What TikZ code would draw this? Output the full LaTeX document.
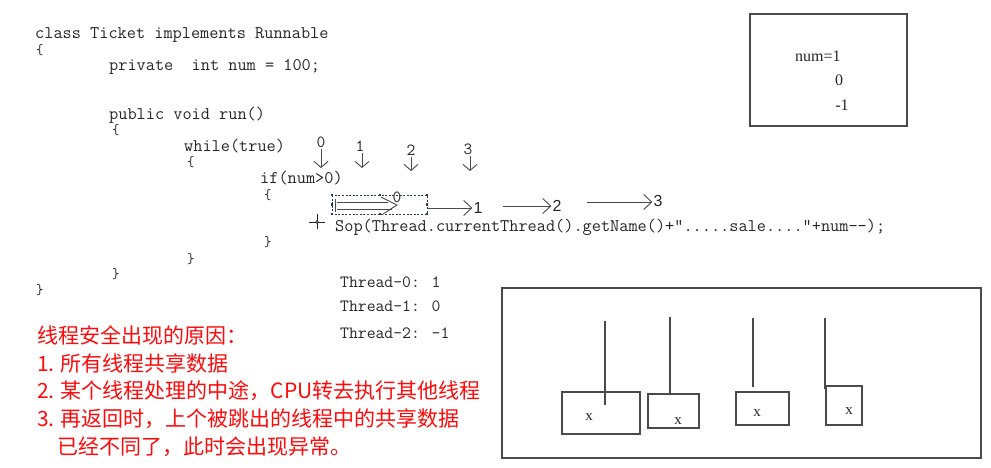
\documentclass[tikz,border=0pt]{standalone}
\usepackage{fontspec}
\usetikzlibrary{arrows.meta}
\newfontfamily\codefont{Latin Modern Mono}
\newfontfamily\seriffont{Liberation Serif}
\newfontfamily\sansfont{Liberation Sans}
\newfontfamily\cjk{Noto Sans CJK SC}
\definecolor{ink}{HTML}{262626}
\definecolor{lineg}{HTML}{4A4A4A}
\definecolor{selc}{HTML}{2E3A5C}
\definecolor{redtxt}{HTML}{FF0A0A}
\begin{document}
\begin{tikzpicture}[x=1pt,y=-1pt,
  code/.style={anchor=west,inner sep=0pt,text=ink,font=\codefont\fontsize{17.8}{20}\selectfont,text height=9pt,text depth=2pt},
  brace/.style={anchor=west,inner sep=0pt,text=ink,font=\codefont\fontsize{14.5}{16}\selectfont,text height=8pt,text depth=2pt},
  outp/.style={anchor=west,inner sep=0pt,text=ink,font=\codefont\fontsize{17.2}{20}\selectfont,text height=9pt,text depth=2pt},
  dnum/.style={inner sep=1pt,text=ink,font=\codefont\fontsize{17}{20}\selectfont},
  hnum/.style={inner sep=1pt,text=ink,font=\sansfont\fontsize{16}{18}\selectfont},
  varrow/.style={draw=lineg,line width=0.9pt,-{Straight Barb[length=6pt,width=14pt]}},
  harrow/.style={draw=lineg,line width=0.9pt,-{Straight Barb[length=8pt,width=15pt]}},
  plain/.style={draw=lineg,line width=0.9pt},
  frame/.style={draw=lineg,line width=1.3pt,inner sep=0pt},
  cell/.style={draw=lineg,line width=1.1pt,inner sep=0pt},
  numtxt/.style={inner sep=0pt,text=ink,font=\seriffont\fontsize{16}{18}\selectfont},
  xlab/.style={inner sep=0pt,text=ink,font=\seriffont\fontsize{15}{18}\selectfont},
  redline/.style={anchor=west,inner sep=0pt,text=redtxt,font=\cjk\fontsize{21}{24}\selectfont},
  handle/.style={fill=selc,inner sep=0pt,minimum size=2.4pt}
]
\useasboundingbox (0,0) rectangle (991,467);

% ---- code ----
\node[code] (c1) at (35,35) {class Ticket implements Runnable};
\node[brace] (c2) at (36,51) {\{};
\node[code] (c3) at (109,67) {private\ \ int num = 100;};
\node[code] (c4) at (109,116) {public void run()};
\node[brace] (c5) at (112,131) {\{};
\node[code] (c6) at (184,148) {while(true)};
\node[brace] (c7) at (187,163) {\{};
\node[code] (c8) at (260,180) {if(num>0)};
\node[brace] (c9) at (264,196) {\{};
\node[code] (c10) at (335,228) {Sop(Thread.currentThread().getName()+".....sale...."+num-{}-);};
\node[brace] (c11) at (264,243) {\}};
\node[brace] (c12) at (187,260) {\}};
\node[brace] (c13) at (112,275) {\}};
\node[brace] (c14) at (36,291) {\}};

% ---- down arrows ----
\node[dnum] (d0) at (321,142) {0};
\node[dnum] (d1) at (360,146) {1};
\node[dnum] (d2) at (411,150) {2};
\node[dnum] (d3) at (468,149) {3};
\coordinate (t0) at (321,168);
\coordinate (t1) at (362,168);
\coordinate (t2) at (411,171);
\coordinate (t3) at (470,171);
\draw[varrow] (d0.south) -- (t0);
\draw[varrow] ([xshift=2pt]d1.south) -- (t1);
\draw[varrow] (d2.south) -- (t2);
\draw[varrow] ([xshift=2pt]d3.south) -- (t3);

% ---- selection box with double arrow ----
\draw[selc,line width=0.8pt,dash pattern=on 2pt off 1.6pt] (332,195) rectangle (427,214);
\foreach \p in {(332,195),(380,195),(427,195),(332,204.5),(427,204.5),(332,214),(380,214),(427,214)}
  \node[handle] at \p {};
\coordinate (a0) at (337,202);
\coordinate (a1) at (388,202);
\coordinate (a2) at (337,209);
\coordinate (a3) at (392,209);
\coordinate (ha) at (381,197);
\coordinate (hb) at (397,205);
\coordinate (hc) at (383,214);
\draw[plain] (a0) -- (a1);
\draw[plain] (a2) -- (a3);
\draw[plain] (ha) -- (hb) -- (hc);
\draw[plain] (335,199) -- (335,212);
\node[dnum] (h0) at (397,197) {0};

% ---- horizontal arrows ----
\node[hnum] (h1) at (478,208) {1};
\node[hnum] (h2) at (557,206) {2};
\node[hnum] (h3) at (658,201) {3};
\coordinate (s1) at (428,208);
\coordinate (s2) at (503,206);
\coordinate (s3) at (587,202);
\draw[harrow] (s1) -- (s1 -| h1.west);
\draw[harrow] (s2) -- (s2 -| h2.west);
\draw[harrow] (s3) -- (s3 -| h3.west);

% ---- cursor cross ----
\coordinate (cx) at (317,222);
\draw[draw=ink,line width=0.8pt] ([xshift=-8pt]cx) -- ([xshift=8pt]cx);
\draw[draw=ink,line width=0.8pt] ([yshift=-7pt]cx) -- ([yshift=8pt]cx);
\draw[draw=ink,line width=0.6pt,fill=white] (cx) circle (1.4pt);

% ---- thread output ----
\node[outp] (o1) at (340,284) {Thread-0: 1};
\node[outp] (o2) at (340,308) {Thread-1: 0};
\node[outp] (o3) at (340,335) {Thread-2: -1};

% ---- num box ----
\node[frame,minimum width=157pt,minimum height=112pt] (nbox) at (828.5,70) {};
\node[numtxt,anchor=west] (n1) at (795,56) {num=1};
\node[numtxt] (n2) at (839,80) {0};
\node[numtxt] (n3) at (842,105) {-1};

% ---- red explanation ----
\node[redline] (r1) at (37,335) {线程安全出现的原因：};
\node[redline] (r2) at (37,363) {1. 所有线程共享数据};
\node[redline] (r3) at (37,391) {2. 某个线程处理的中途，CPU转去执行其他线程};
\node[redline] (r4) at (37,419) {3. 再返回时，上个被跳出的线程中的共享数据};
\node[redline] (r5) at (57,447) {已经不同了，此时会出现异常。};

% ---- bottom frame ----
\node[frame,minimum width=479pt,minimum height=170pt] (bbox) at (741.5,373) {};
\node[cell,minimum width=78pt,minimum height=42pt] (b1) at (601,413) {};
\node[cell,minimum width=51pt,minimum height=34pt] (b2) at (673.5,411) {};
\node[cell,minimum width=53pt,minimum height=33pt] (b3) at (762.5,408.5) {};
\node[cell,minimum width=36pt,minimum height=39pt] (b4) at (844,405.5) {};
\node[xlab] (x1) at (589,417) {x};
\node[xlab] (x2) at (678,421) {x};
\node[xlab] (x3) at (757,413) {x};
\node[xlab] (x4) at (849,411) {x};
\coordinate (p1) at (605,321);
\coordinate (q1) at (605,405);
\coordinate (p2) at (670,317);
\coordinate (p3) at (753,318);
\coordinate (q3) at (753,387);
\coordinate (p4) at (825,318);
\coordinate (q4) at (825,389);
\draw[plain,line width=1.1pt] (p1) -- (q1);
\draw[plain,line width=1.1pt] (p2) -- (p2 |- b2.north);
\draw[plain,line width=1.1pt] (p3) -- (q3);
\draw[plain,line width=1.1pt] (p4) -- (q4);
\end{tikzpicture}
\end{document}
